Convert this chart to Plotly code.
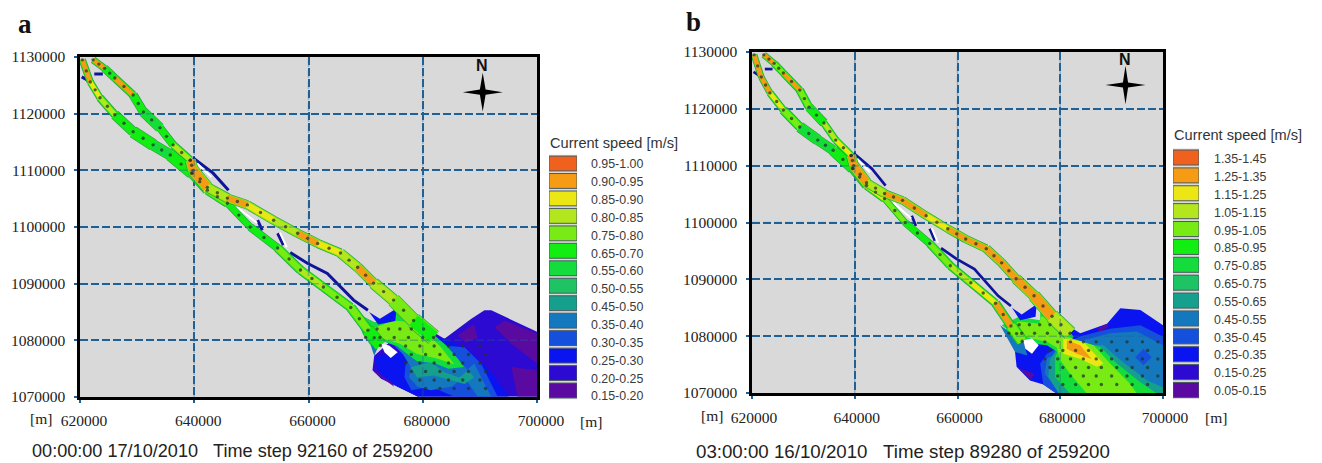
import plotly.graph_objects as go

W, H = 1322, 463
x_ticks = [620000, 640000, 660000, 680000, 700000]
y_ticks = [1070000, 1080000, 1090000, 1100000, 1110000, 1120000, 1130000]

palette = ["#f0611e", "#f59b14", "#ece614", "#b4e61e", "#78eb14", "#12ee12", "#14dc3c",
           "#1ec364", "#14a08c", "#1478be", "#1450dc", "#0a14f0", "#2d0ad2", "#5a0aa0"]
a_labels = ["0.95-1.00", "0.90-0.95", "0.85-0.90", "0.80-0.85", "0.75-0.80", "0.65-0.70", "0.55-0.60",
            "0.50-0.55", "0.45-0.50", "0.35-0.40", "0.30-0.35", "0.25-0.30", "0.20-0.25", "0.15-0.20"]
b_labels = ["1.35-1.45", "1.25-1.35", "1.15-1.25", "1.05-1.15", "0.95-1.05", "0.85-0.95", "0.75-0.85",
            "0.65-0.75", "0.55-0.65", "0.45-0.55", "0.35-0.45", "0.25-0.35", "0.15-0.25", "0.05-0.15"]
a_floor = [0.95, 0.90, 0.85, 0.80, 0.75, 0.65, 0.55, 0.50, 0.45, 0.35, 0.30, 0.25, 0.20, 0.15]
b_floor = [1.35, 1.25, 1.15, 1.05, 0.95, 0.85, 0.75, 0.65, 0.55, 0.45, 0.35, 0.25, 0.15, 0.05]

# channel centre lines, km
east_x = [622.3, 624.3, 626.1, 629.3, 631.1, 634.0, 636.3, 639.3]
east_y = [1129.5, 1128.0, 1126.3, 1123.3, 1120.3, 1117.5, 1114.5, 1111.8]
west_x = [620.4, 621.8, 623.5, 626.1, 629.3, 632.8, 635.8, 639.6]
west_y = [1129.5, 1125.6, 1122.8, 1119.8, 1116.8, 1114.5, 1112.7, 1109.5]
upper_x = [639.3, 639.8, 642.3, 645.8, 649.3, 653.9, 658.1, 661.6, 665.6, 668.6, 671.4, 674.9, 678.4, 681.9]
upper_y = [1111.8, 1110.0, 1107.0, 1105.1, 1103.9, 1101.2, 1098.9, 1097.1, 1095.4, 1092.9, 1090.1, 1087.1, 1083.5, 1080.5]
lower_x = [639.6, 642.3, 645.8, 649.8, 654.6, 658.6, 662.6, 667.4, 670.4, 672.6]
lower_y = [1109.5, 1106.5, 1104.2, 1100.0, 1096.3, 1092.4, 1089.4, 1085.8, 1081.8, 1079.1]
# segment speeds, m/s
a_east = [0.92, 0.67, 0.92, 0.67, 0.57, 0.67, 0.82]
b_east = [1.30, 1.00, 1.30, 1.00, 0.90, 1.10, 1.20]
a_west = [0.92, 0.87, 0.82, 0.67, 0.67, 0.57, 0.67]
b_west = [1.30, 1.30, 1.20, 1.00, 0.80, 0.80, 0.90]
a_upper = [0.92, 0.92, 0.82, 0.92, 0.87, 0.82, 0.92, 0.87, 0.82, 0.92, 0.82, 0.77, 0.67]
b_upper = [1.30, 1.30, 1.10, 1.30, 1.30, 1.20, 1.30, 1.30, 1.30, 1.30, 1.30, 1.30, 1.10]
a_lower = [0.87, 0.77, 0.67, 0.67, 0.77, 0.82, 0.77, 0.77, 0.67]
b_lower = [1.30, 1.20, 1.00, 0.90, 1.00, 1.10, 1.20, 1.30, 1.00]
# channel width per segment, px
east_w = [6, 7, 7, 8, 9, 7, 7]
west_w = [6, 6, 7, 9, 11, 10, 11]
upper_w = [10, 11, 9, 8, 8, 8, 8, 8, 9, 9, 11, 13, 15, 15]
lower_w = [9, 8, 6, 7, 8, 8, 8, 9, 12]

thin_x = [639.8, 643.3, 646.0, None, 651.1, 651.9, None, 654.6, 655.6, None, 656.8, 659.8, 663.3, 667.9, 670.4,
          None, 620.3, 621.5, None, 622.5, 624.0]
thin_y = [1112.2, 1109.5, 1106.5, None, 1101.2, 1099.4, None, 1098.9, 1096.8, None, 1095.5, 1093.6, 1091.8, 1087.1, 1085.3,
          None, 1126.5, 1125.8, None, 1127.0, 1127.0]
wedge_x = [670.6, 672.5, 675.4, 675.2, 672.2]
wedge_y = [1085.0, 1083.8, 1085.6, 1083.4, 1082.8]
sliver_x = [647.5, 651.0, None, 640.5, 643.0, None, 655.0, 656.2]
sliver_y = [1103.5, 1100.7, None, 1111.2, 1108.8, None, 1099.0, 1096.4]

# bay outlines and contour bands, km
a_bay_x = [671.5, 671.2, 672.7, 675.6, 679.1, 700.0, 700.0, 692.0, 690.8, 688.5, 683.8, 678.5]
a_bay_y = [1077.3, 1074.7, 1073.2, 1071.8, 1070.1, 1070.1, 1081.5, 1085.3, 1085.3, 1083.8, 1080.3, 1083.5]
b_bay_x = [671.2, 671.5, 674.1, 676.7, 679.3, 700.0, 700.0, 695.6, 691.7, 689.1, 683.9, 678.5]
b_bay_y = [1077.2, 1074.6, 1072.2, 1071.5, 1069.9, 1069.9, 1081.9, 1084.6, 1084.9, 1082.2, 1080.5, 1083.5]

a_bands = [
    (13, [686.1, 689.0, 689.6, 687.5], [1080.9, 1082.9, 1080.4, 1079.6]),
    (13, [692.6, 694.3, 700.0, 700.0, 695.5], [1082.3, 1083.5, 1081.2, 1075.9, 1079.4]),
    (13, [696.6, 700.0, 700.0, 695.5], [1070.1, 1070.1, 1074.7, 1075.3]),
    (13, [671.5, 675.0, 673.8], [1074.4, 1071.8, 1074.1]),
    (11, [671.5, 676.0, 680.0, 683.9, 688.0, 692.0, 695.0, 679.1, 675.6, 672.5],
         [1077.0, 1078.0, 1081.0, 1080.3, 1078.3, 1074.4, 1070.1, 1070.1, 1071.8, 1074.0]),
    (10, [677.0, 683.5, 687.3, 690.2, 693.1, 685.5, 681.4, 678.0, 676.8],
         [1075.9, 1079.1, 1078.8, 1075.9, 1070.1, 1070.1, 1071.8, 1071.2, 1073.5]),
    (9, [677.6, 677.9, 681.4, 683.8, 686.4, 689.0, 691.4, 692.0, 689.6, 687.3, 685.0, 681.4, 679.1],
        [1073.5, 1075.3, 1076.2, 1074.4, 1073.5, 1075.9, 1071.2, 1070.1, 1070.1, 1073.5, 1071.8, 1071.2, 1071.8]),
    (8, [677.9, 681.4, 683.8, 686.4, 687.9, 689.0, 687.3, 685.0, 682.0, 679.0],
        [1075.3, 1076.2, 1074.4, 1073.5, 1074.7, 1073.5, 1072.3, 1073.0, 1073.8, 1073.5]),
    (9, [670.9, 669.5, 668.0, 671.5, 675.0, 675.6, 678.5, 682.0, 684.1, 686.1, 687.9, 686.4, 683.8, 681.4, 677.9, 676.5, 675.0, 672.7, 671.5],
        [1079.1, 1081.2, 1085.0, 1083.2, 1083.8, 1085.6, 1083.5, 1080.9, 1079.1, 1076.8, 1074.7, 1073.5, 1074.4, 1076.2, 1075.3, 1077.6, 1079.1, 1080.0, 1077.3]),
    (6, [670.9, 669.5, 668.0, 671.5, 675.0, 675.6, 678.5, 682.0, 684.1, 686.1, 687.2, 684.5, 682.0, 679.0, 677.0, 675.5, 672.7],
        [1079.1, 1081.2, 1085.0, 1083.2, 1083.8, 1085.6, 1083.5, 1080.9, 1079.1, 1076.8, 1075.3, 1075.0, 1076.0, 1076.3, 1077.8, 1079.0, 1080.0]),
    (4, [670.3, 675.0, 677.9, 681.4, 683.2, 685.5, 682.5, 679.0, 676.0, 672.7],
        [1081.8, 1083.5, 1083.2, 1080.6, 1078.8, 1075.8, 1076.8, 1077.6, 1079.4, 1080.4]),
]
b_bands = [
    (13, [671.8, 674.3, 675.0], [1074.4, 1072.3, 1073.4]),
    (13, [687.2, 689.1, 689.4, 687.6], [1081.3, 1082.2, 1081.6, 1080.7]),
    (10, [683.9, 689.7, 695.6, 700.0, 700.0, 679.3, 676.7, 676.1, 677.4],
         [1080.0, 1081.3, 1081.9, 1079.9, 1069.9, 1069.9, 1071.5, 1075.2, 1076.9]),
    (9, [684.5, 689.7, 694.9, 700.0, 700.0, 680.0, 677.0, 677.4],
        [1079.3, 1080.5, 1080.8, 1078.4, 1069.9, 1069.9, 1073.4, 1076.1]),
    (10, [694.6, 696.2, 697.8, 696.2], [1076.3, 1077.8, 1076.3, 1074.9]),
    (8, [680.0, 688.4, 691.7, 696.9, 700.0, 700.0, 679.7, 677.7, 678.0],
        [1078.7, 1078.4, 1075.8, 1072.2, 1071.0, 1069.9, 1069.9, 1072.8, 1075.8]),
    (6, [682.6, 687.8, 691.0, 695.6, 698.8, 681.9, 679.0, 679.0, 680.0],
        [1079.3, 1078.1, 1075.2, 1071.9, 1069.9, 1069.9, 1072.8, 1076.3, 1078.7]),
    (9, [671.2, 668.3, 671.5, 672.8, 673.2, 673.6], [1077.2, 1081.9, 1079.9, 1079.3, 1077.8, 1076.6]),
    (6, [668.6, 671.9, 676.1, 676.1, 680.0, 682.6, 680.0, 677.4, 674.5, 671.5],
        [1081.9, 1083.4, 1082.8, 1084.3, 1083.1, 1079.9, 1076.9, 1078.4, 1078.7, 1079.9]),
    (4, [670.0, 672.0, 675.9, 676.3, 679.6, 681.3, 686.5, 689.7, 693.6, 694.9, 685.2, 681.9, 680.0, 679.3, 677.4, 674.5, 671.5],
        [1081.5, 1082.6, 1082.2, 1083.5, 1082.6, 1079.9, 1078.4, 1075.2, 1071.6, 1069.9, 1069.9, 1073.4, 1075.8, 1078.0, 1079.0, 1079.6, 1080.4]),
    (2, [680.6, 684.5, 688.4, 687.1, 683.9, 680.6], [1079.6, 1079.0, 1075.2, 1074.6, 1076.0, 1076.9]),
    (1, [681.3, 683.9, 686.1, 683.2, 681.3], [1079.3, 1078.4, 1076.0, 1076.9, 1077.8]),
]
a_hole_x = [672.7, 674.1, 675.6, 674.4, 673.3]
a_hole_y = [1079.4, 1079.1, 1077.9, 1076.9, 1077.9]
b_hole_x = [672.8, 674.5, 675.8, 674.5, 673.2]
b_hole_y = [1079.3, 1079.6, 1078.4, 1076.9, 1077.8]

dot_rows_y = [1082.0, 1080.5, 1079.0, 1077.5, 1076.0, 1074.5, 1073.0, 1071.5]
dot_rows_x = [[672, 674, 676, 678],
              [670, 672.5, 675, 677.5, 680],
              [677, 679.5, 682, 684.5, 687, 690, 693, 696, 699],
              [678, 680.5, 683, 685.5, 688, 691, 694, 697],
              [677, 679.5, 682, 684.5, 687, 690, 693, 696, 699],
              [678, 680.5, 683, 685.5, 688, 691, 694, 697],
              [679.5, 682, 684.5, 687, 690, 693, 696, 699],
              [680.5, 683, 685.5, 688, 691, 694, 697]]

a_star_dx = [0, 0.5, 3.5, 0.5, 0, -0.5, -3.5, -0.5]
b_star_dx = [0, 0.5, 3.9, 0.5, 0, -0.5, -3.9, -0.5]
star_dy = [3.4, 0.45, 0, -0.45, -3.4, -0.45, 0, 0.45]
a_star = (690.5, 1123.8)
b_star = (692.7, 1124.2)


def m(values):
    return [None if v is None else v * 1000 for v in values]


def band_colour(speed, floors):
    for floor, colour in zip(floors, palette):
        if speed >= floor:
            return colour
    return palette[-1]


fig = go.Figure()


def poly(x, y, colour, ax):
    fig.add_trace(go.Scatter(x=m(x), y=m(y), mode="lines", fill="toself", fillcolor=colour,
                             line=dict(width=0, color=colour), hoverinfo="skip", showlegend=False,
                             xaxis="x" + ax, yaxis="y" + ax))


def line(x, y, colour, width, ax, opacity=1.0, dash=None):
    fig.add_trace(go.Scatter(x=m(x), y=m(y), mode="lines", opacity=opacity,
                             line=dict(width=width, color=colour, dash=dash), connectgaps=False,
                             hoverinfo="skip", showlegend=False, xaxis="x" + ax, yaxis="y" + ax))


def channel(x, y, speeds, floors, widths, ax, scale, flank):
    for i, s in enumerate(speeds):
        line(x[i:i + 2], y[i:i + 2], "#2a9a46", widths[i] * scale + 1.2, ax)
    for i, s in enumerate(speeds):
        line(x[i:i + 2], y[i:i + 2], flank, widths[i] * scale, ax)
        line(x[i:i + 2], y[i:i + 2], band_colour(s, floors), max(widths[i] * scale - 2, 4.5), ax)


def panel(ax, floors, bay_x, bay_y, bands, hole_x, hole_y, speeds, scale, star, star_dx, dot_limit):
    line(thin_x, thin_y, "#10149a", 3 * scale, ax)
    line(sliver_x, sliver_y, "#ffffff", 2, ax)
    poly(bay_x, bay_y, palette[12] if ax == "" else palette[11], ax)
    for idx, bx, by in bands:
        poly(bx, by, palette[idx], ax)
    poly(wedge_x, wedge_y, palette[11], ax)
    channel(east_x, east_y, speeds[0], floors, east_w, ax, scale, palette[5])
    channel(west_x, west_y, speeds[1], floors, west_w, ax, scale, palette[5])
    channel(lower_x, lower_y, speeds[3], floors, lower_w, ax, scale, palette[5])
    channel(upper_x, upper_y, speeds[2], floors, upper_w, ax, scale, palette[4])
    poly(hole_x, hole_y, "#ffffff", ax)
    dx, dy = [], []
    for cx, cy in ((east_x, east_y), (west_x, west_y), (upper_x, upper_y), (lower_x, lower_y)):
        dx += cx + [(p + q) / 2 for p, q in zip(cx, cx[1:])]
        dy += cy + [(p + q) / 2 for p, q in zip(cy, cy[1:])]
    for ry, row in zip(dot_rows_y, dot_rows_x):
        for rx in row:
            if rx <= dot_limit:
                dx.append(rx)
                dy.append(ry)
    fig.add_trace(go.Scatter(x=m(dx), y=m(dy), mode="markers",
                             marker=dict(size=3.4, color="#26322a", opacity=0.75),
                             hoverinfo="skip", showlegend=False, xaxis="x" + ax, yaxis="y" + ax))
    for t in x_ticks[1:-1]:
        line([t / 1000, t / 1000], [1070, 1130], "#1f5f96", 1.5, ax, opacity=0.35, dash="8px,3px")
    for t in y_ticks[1:-1]:
        line([620, 700], [t / 1000, t / 1000], "#1f5f96", 1.5, ax, opacity=0.35, dash="8px,3px")
    poly([star[0] + d for d in star_dx], [star[1] + d for d in star_dy], "#000000", ax)


panel("", a_floor, a_bay_x, a_bay_y, a_bands, a_hole_x, a_hole_y, (a_east, a_west, a_upper, a_lower), 1.0, a_star, a_star_dx, 691)
panel("2", b_floor, b_bay_x, b_bay_y, b_bands, b_hole_x, b_hole_y, (b_east, b_west, b_upper, b_lower), 0.9, b_star, b_star_dx, 700)

rows = list(range(14))
fig.add_trace(go.Bar(y=rows, x=[1] * 14, orientation="h", width=0.85, marker=dict(color=palette, line=dict(color="#4a5a60", width=1)),
                     hoverinfo="skip", showlegend=False, xaxis="x3", yaxis="y3"))
fig.add_trace(go.Bar(y=rows, x=[1] * 14, orientation="h", width=0.84, marker=dict(color=palette, line=dict(color="#4a5a60", width=1)),
                     hoverinfo="skip", showlegend=False, xaxis="x4", yaxis="y4"))


def xd(a, b):
    return [a / W, b / W]


def yd(top, bottom):
    return [(H - bottom) / H, (H - top) / H]


serif = dict(family="Liberation Serif", size=15.5, color="#222222")
grid = dict(showgrid=True, gridcolor="#1f6296", griddash="8px,3px", gridwidth=1.8, zeroline=False, automargin=False,
            showline=True, linecolor="#000000", linewidth=2.5, mirror=True, tickfont=serif,
            ticks="outside", ticklen=3, tickcolor="#1f5f96", tickwidth=1.5)
xt = [str(v) for v in x_ticks]
yt = [str(v) for v in y_ticks]
layout = dict(
    width=W, height=H, margin=dict(l=0, r=0, t=0, b=0), autosize=False,
    paper_bgcolor="#ffffff", plot_bgcolor="#d9d9d9", showlegend=False,
    xaxis=dict(domain=xd(80, 537), range=[620000, 700000], tickvals=x_ticks, ticktext=xt, anchor="y",
               ticklabelstandoff=5, ticklabelshift=4, **grid),
    yaxis=dict(domain=yd(57, 397), range=[1070000, 1130000], tickvals=y_ticks, ticktext=yt, anchor="x",
               ticklabelstandoff=6, **grid),
    xaxis2=dict(domain=xd(752, 1163), range=[620000, 700000], tickvals=x_ticks, ticktext=xt, anchor="y2",
                ticklabelstandoff=6, ticklabelshift=2, **grid),
    yaxis2=dict(domain=yd(52, 393), range=[1070000, 1130000], tickvals=y_ticks, ticktext=yt, anchor="x2",
                ticklabelstandoff=6, **grid),
)
sans = dict(family="Liberation Sans", size=12.4, color="#3a3a3a")
# swatch rows: panel a centred 163.5..390.5, panel b 157.5..390
layout["xaxis3"] = dict(domain=xd(549, 577), range=[0, 1], visible=False, anchor="y3", fixedrange=True, automargin=False)
layout["yaxis3"] = dict(domain=yd(163.5 - 8.73, 390.5 + 8.73), range=[13.5, -0.5], anchor="x3", side="right", showgrid=False,
                        zeroline=False, showline=False, ticks="", tickfont=sans, ticklabelstandoff=13, automargin=False,
                        tickvals=[r * 1.022 + 0.03 for r in rows], ticktext=a_labels)
layout["xaxis4"] = dict(domain=xd(1173, 1199), range=[0, 1], visible=False, anchor="y4", fixedrange=True, automargin=False)
layout["yaxis4"] = dict(domain=yd(157.5 - 8.94, 390 + 8.94), range=[13.5, -0.5], anchor="x4", side="right", showgrid=False,
                        zeroline=False, showline=False, ticks="", tickfont=sans, ticklabelstandoff=14, automargin=False,
                        tickvals=[r * 0.997 + 0.08 for r in rows], ticktext=b_labels)


def note(x, y, text, size, family, color="#222222", bold=False, anchor="left"):
    return dict(xref="paper", yref="paper", x=x / W, y=(H - y) / H, text=f"<b>{text}</b>" if bold else text,
                showarrow=False, xanchor=anchor, yanchor="middle",
                font=dict(size=size, family=family, color=color), align="left")


nb = "\u00a0"
layout["annotations"] = [
    note(16, 24, "a", 27, "Liberation Serif", "#111111", True),
    note(684, 22, "b", 27, "Liberation Serif", "#111111", True),
    note(482, 65, "N", 16, "Liberation Sans", "#111111", True, "center"),
    note(1125, 60, "N", 16, "Liberation Sans", "#111111", True, "center"),
    note(41, 418, "[m]", 15.5, "Liberation Serif", anchor="center"),
    note(591, 421, "[m]", 15.5, "Liberation Serif", anchor="center"),
    note(712, 415, "[m]", 15.5, "Liberation Serif", anchor="center"),
    note(1216, 417, "[m]", 15.5, "Liberation Serif", anchor="center"),
    note(548, 143, "Current speed [m/s]", 14.6, "Liberation Sans", "#333333"),
    note(1172, 135, "Current speed [m/s]", 14.6, "Liberation Sans", "#333333"),
    note(30, 451, f"00:00:00 17/10/2010{nb}{nb}{nb}Time step 92160 of 259200", 18.1, "Liberation Sans", "#222222"),
    note(694, 451, f"03:00:00 16/10/2010{nb}{nb}{nb}Time step 89280 of 259200", 18.7, "Liberation Sans", "#222222"),
]
fig.update_layout(**layout)
fig.write_html("out.html", config={"displayModeBar": False},
               post_script="document.body.style.margin='0';document.body.style.overflow='hidden';")
